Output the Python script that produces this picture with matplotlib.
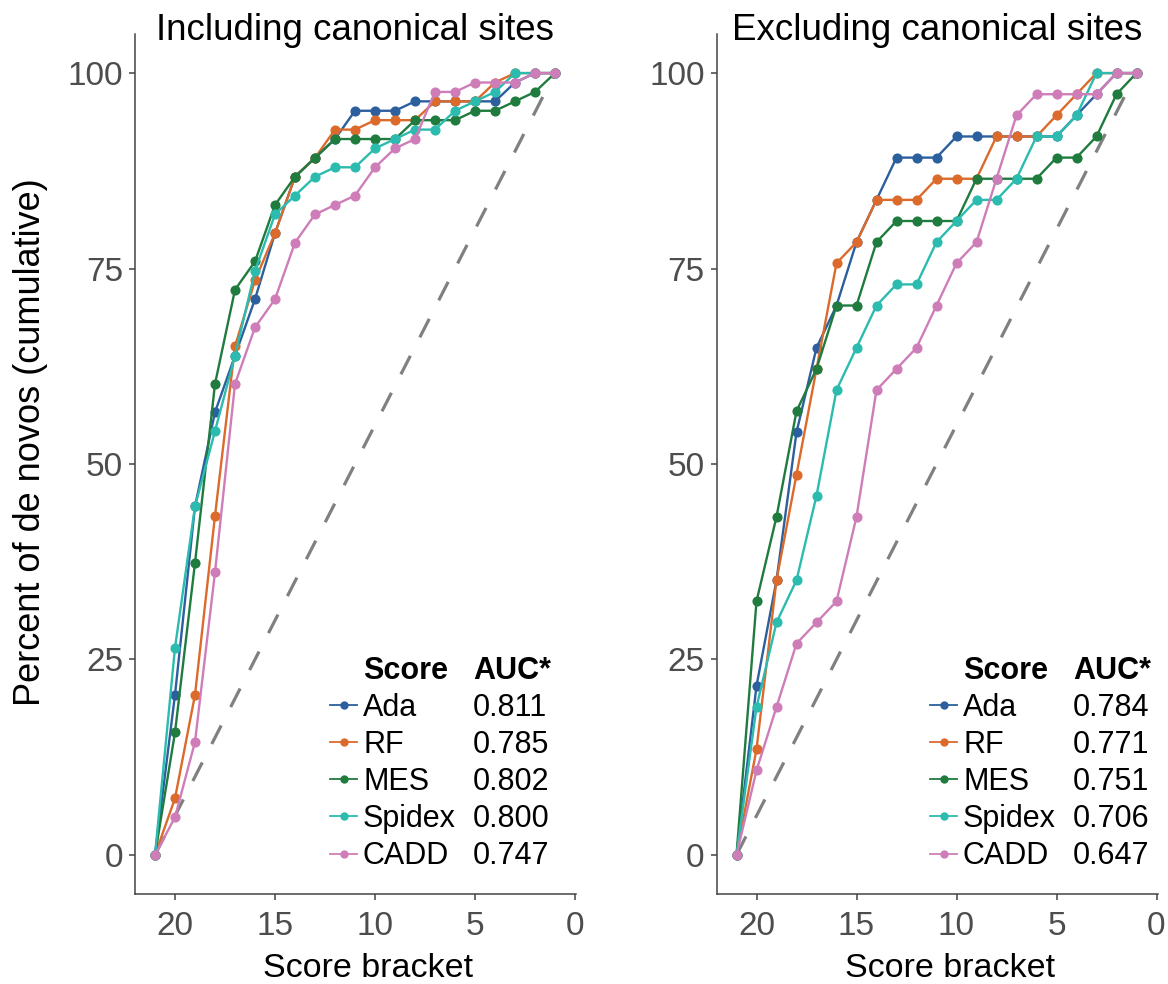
import matplotlib
matplotlib.use("Agg")
import matplotlib.pyplot as plt
from matplotlib.lines import Line2D
import numpy as np

plt.rcParams['font.family'] = ['Liberation Sans', 'DejaVu Sans']

# ---------------- data ----------------
brackets = list(range(21, 0, -1))          # score bracket 21 .. 1
scores = ['Ada', 'RF', 'MES', 'Spidex', 'CADD']
colors = ['#2C5F9E', '#DB6A2B', '#1F7B3E', '#2BBBAF', '#CE7DB9']

# Including canonical sites (cumulative counts, total 83)
incl_total = 83
incl_ada    = [0, 17, 37, 47, 53, 59, 66, 72, 74, 76, 79, 79, 79, 80, 80, 80, 80, 80, 82, 83, 83]
incl_rf     = [0, 6, 17, 36, 54, 61, 66, 72, 74, 77, 77, 78, 78, 78, 80, 80, 80, 82, 83, 83, 83]
incl_mes    = [0, 13, 31, 50, 60, 63, 69, 72, 74, 76, 76, 76, 76, 78, 78, 78, 79, 79, 80, 81, 83]
incl_spidex = [0, 22, 37, 45, 53, 62, 68, 70, 72, 73, 73, 75, 76, 77, 77, 79, 80, 81, 83, 83, 83]
incl_cadd   = [0, 4, 12, 30, 50, 56, 59, 65, 68, 69, 70, 73, 75, 76, 81, 81, 82, 82, 82, 83, 83]
incl_auc = ['0.811', '0.785', '0.802', '0.800', '0.747']

# Excluding canonical sites (cumulative counts, total 37)
excl_total = 37
excl_ada    = [0, 8, 13, 20, 24, 26, 29, 31, 33, 33, 33, 34, 34, 34, 34, 34, 34, 35, 36, 37, 37]
excl_rf     = [0, 5, 13, 18, 23, 28, 29, 31, 31, 31, 32, 32, 32, 34, 34, 34, 35, 36, 37, 37, 37]
excl_mes    = [0, 12, 16, 21, 23, 26, 26, 29, 30, 30, 30, 30, 32, 32, 32, 32, 33, 33, 34, 36, 37]
excl_spidex = [0, 7, 11, 13, 17, 22, 24, 26, 27, 27, 29, 30, 31, 31, 32, 34, 34, 35, 37, 37, 37]
excl_cadd   = [0, 4, 7, 10, 11, 12, 16, 22, 23, 24, 26, 28, 29, 32, 35, 36, 36, 36, 36, 37, 37]
excl_auc = ['0.784', '0.771', '0.751', '0.706', '0.647']

diag_x = [21, 1]
diag_y = [0, 100]

titles = ['Including canonical sites', 'Excluding canonical sites']
xlabel = 'Score bracket'
ylabel = 'Percent of de novos (cumulative)'
xticks = [20, 15, 10, 5, 0]
yticks = [0, 25, 50, 75, 100]

# ---------------- layout ----------------
W, H = 1168, 984
fig = plt.figure(figsize=(W / 100, H / 100), dpi=100)

def fx(px):
    return px / W

def fy(py):
    return 1 - py / H

ax_top, ax_bot = 34, 894
ax_w = 441
lefts = [135, 716.5]

panels = [
    (incl_total, [incl_ada, incl_rf, incl_mes, incl_spidex, incl_cadd], incl_auc),
    (excl_total, [excl_ada, excl_rf, excl_mes, excl_spidex, excl_cadd], excl_auc),
]

spine_col = '#444444'
tick_col = '#4D4D4D'

for i, (total, series, aucs) in enumerate(panels):
    left = lefts[i]
    ax = fig.add_axes([fx(left), fy(ax_bot), ax_w / W, (ax_bot - ax_top) / H])
    ax.plot(diag_x, diag_y, color='#808080', lw=2.3, dashes=(6.5, 6.5), zorder=1)
    for vals, col in zip(series, colors):
        pct = np.array(vals) / total * 100
        ax.plot(brackets, pct, color=col, lw=1.7, marker='o', markersize=7.3,
                markeredgewidth=0, zorder=3)
    ax.set_xlim(22, -0.05)
    ax.set_ylim(-5, 105)
    ax.set_xticks(xticks)
    ax.set_yticks(yticks)
    for s in ['top', 'right']:
        ax.spines[s].set_visible(False)
    for s in ['left', 'bottom']:
        ax.spines[s].set_color(spine_col)
        ax.spines[s].set_linewidth(1.1)
    ax.tick_params(axis='both', length=4.5, width=1.1, color=spine_col,
                   labelcolor=tick_col, labelsize=24)
    ax.tick_params(axis='x', pad=8)
    ax.tick_params(axis='y', pad=4)

    cx = left + ax_w / 2
    fig.text(fx(cx), fy(40), titles[i], ha='center', va='baseline', fontsize=26.5,
             color='black')
    fig.text(fx(left + 233.5), fy(977), xlabel, ha='center', va='baseline',
             fontsize=24.5, color='black')

    # legend (manual table)
    key_l = left + 195 if i == 0 else left + 213.5
    label_x = key_l + 33
    val_x = key_l + 143
    base0 = 679
    step = 37.1
    fig.text(fx(label_x), fy(base0), 'Score', fontsize=22, fontweight='bold',
             ha='left', va='baseline')
    fig.text(fx(val_x), fy(base0), 'AUC*', fontsize=22, fontweight='bold',
             ha='left', va='baseline')
    for j, (name, col, auc) in enumerate(zip(scores, colors, aucs)):
        base = base0 + step * (j + 1)
        mid = base - 11
        fig.add_artist(Line2D([fx(key_l), fx(key_l + 27)], [fy(mid), fy(mid)],
                              transform=fig.transFigure, color=col, lw=1.3))
        fig.add_artist(Line2D([fx(key_l + 13.5)], [fy(mid)], transform=fig.transFigure,
                              color=col, marker='o', markersize=6, markeredgewidth=0))
        fig.text(fx(label_x), fy(base), name, fontsize=22, ha='left', va='baseline')
        fig.text(fx(val_x), fy(base), auc, fontsize=22, ha='left', va='baseline')

fig.text(fx(31), fy(442), ylabel, rotation=90, ha='center', va='center',
         fontsize=26, color='black')

fig.savefig('out.png', dpi=100)
